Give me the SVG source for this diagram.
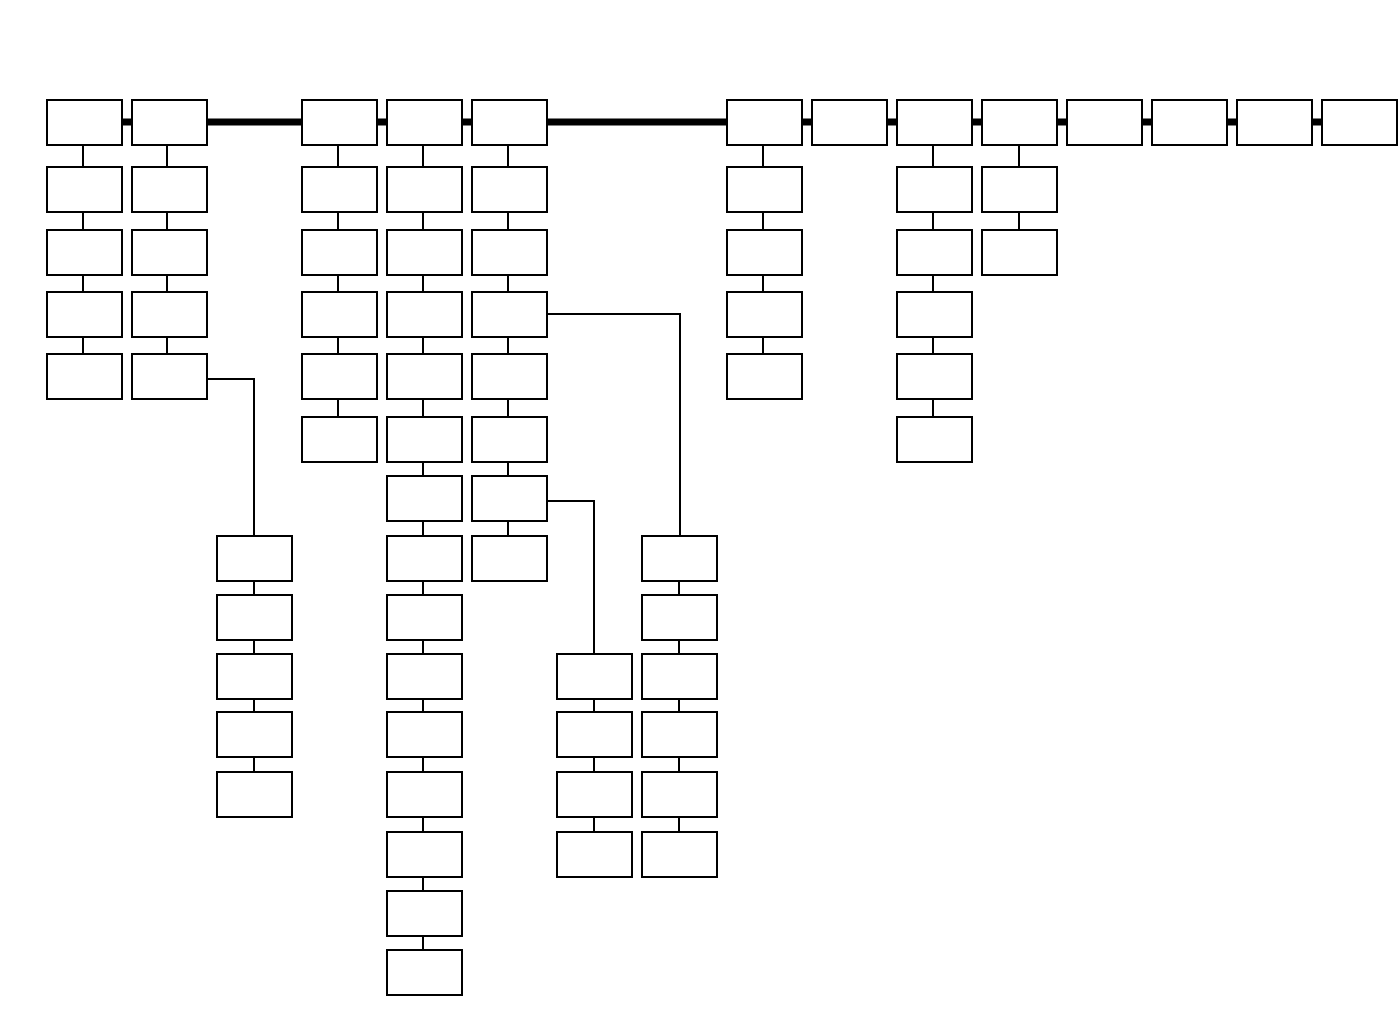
<svg xmlns="http://www.w3.org/2000/svg" width="1398" height="1016" viewBox="0 0 1398 1016">
<style>
.n rect{fill:#fff;stroke:#000;stroke-width:2}
.c line,.c polyline{stroke:#000;stroke-width:2;fill:none}
.c .bus{stroke-width:7}
</style>
<rect width="1398" height="1016" fill="#fff"/>
<g class="c">
<line class="bus" x1="84" y1="122" x2="1360" y2="122"/>
<line x1="83" y1="145" x2="83" y2="354"/>
<line x1="167" y1="145" x2="167" y2="354"/>
<line x1="338" y1="145" x2="338" y2="417"/>
<line x1="423" y1="145" x2="423" y2="950"/>
<line x1="508" y1="145" x2="508" y2="536"/>
<line x1="763" y1="145" x2="763" y2="354"/>
<line x1="933" y1="145" x2="933" y2="417"/>
<line x1="1019" y1="145" x2="1019" y2="230"/>
<line x1="254" y1="536" x2="254" y2="772"/>
<line x1="594" y1="654" x2="594" y2="832"/>
<line x1="679" y1="536" x2="679" y2="832"/>
<polyline points="207,379 254,379 254,536"/>
<polyline points="548,314 680,314 680,536"/>
<polyline points="548,501 594,501 594,654"/>
</g>
<g class="n">
<g id="c0"><rect x="47" y="100" width="75" height="45"/><rect x="47" y="167" width="75" height="45"/><rect x="47" y="230" width="75" height="45"/><rect x="47" y="292" width="75" height="45"/><rect x="47" y="354" width="75" height="45"/></g>
<g id="c1"><rect x="132" y="100" width="75" height="45"/><rect x="132" y="167" width="75" height="45"/><rect x="132" y="230" width="75" height="45"/><rect x="132" y="292" width="75" height="45"/><rect x="132" y="354" width="75" height="45"/></g>
<g id="c2"><rect x="217" y="536" width="75" height="45"/><rect x="217" y="595" width="75" height="45"/><rect x="217" y="654" width="75" height="45"/><rect x="217" y="712" width="75" height="45"/><rect x="217" y="772" width="75" height="45"/></g>
<g id="c3"><rect x="302" y="100" width="75" height="45"/><rect x="302" y="167" width="75" height="45"/><rect x="302" y="230" width="75" height="45"/><rect x="302" y="292" width="75" height="45"/><rect x="302" y="354" width="75" height="45"/><rect x="302" y="417" width="75" height="45"/></g>
<g id="c4"><rect x="387" y="100" width="75" height="45"/><rect x="387" y="167" width="75" height="45"/><rect x="387" y="230" width="75" height="45"/><rect x="387" y="292" width="75" height="45"/><rect x="387" y="354" width="75" height="45"/><rect x="387" y="417" width="75" height="45"/><rect x="387" y="476" width="75" height="45"/><rect x="387" y="536" width="75" height="45"/><rect x="387" y="595" width="75" height="45"/><rect x="387" y="654" width="75" height="45"/><rect x="387" y="712" width="75" height="45"/><rect x="387" y="772" width="75" height="45"/><rect x="387" y="832" width="75" height="45"/><rect x="387" y="891" width="75" height="45"/><rect x="387" y="950" width="75" height="45"/></g>
<g id="c5"><rect x="472" y="100" width="75" height="45"/><rect x="472" y="167" width="75" height="45"/><rect x="472" y="230" width="75" height="45"/><rect x="472" y="292" width="75" height="45"/><rect x="472" y="354" width="75" height="45"/><rect x="472" y="417" width="75" height="45"/><rect x="472" y="476" width="75" height="45"/><rect x="472" y="536" width="75" height="45"/></g>
<g id="c6"><rect x="557" y="654" width="75" height="45"/><rect x="557" y="712" width="75" height="45"/><rect x="557" y="772" width="75" height="45"/><rect x="557" y="832" width="75" height="45"/></g>
<g id="c7"><rect x="642" y="536" width="75" height="45"/><rect x="642" y="595" width="75" height="45"/><rect x="642" y="654" width="75" height="45"/><rect x="642" y="712" width="75" height="45"/><rect x="642" y="772" width="75" height="45"/><rect x="642" y="832" width="75" height="45"/></g>
<g id="c8"><rect x="727" y="100" width="75" height="45"/><rect x="727" y="167" width="75" height="45"/><rect x="727" y="230" width="75" height="45"/><rect x="727" y="292" width="75" height="45"/><rect x="727" y="354" width="75" height="45"/></g>
<g id="c9"><rect x="812" y="100" width="75" height="45"/></g>
<g id="c10"><rect x="897" y="100" width="75" height="45"/><rect x="897" y="167" width="75" height="45"/><rect x="897" y="230" width="75" height="45"/><rect x="897" y="292" width="75" height="45"/><rect x="897" y="354" width="75" height="45"/><rect x="897" y="417" width="75" height="45"/></g>
<g id="c11"><rect x="982" y="100" width="75" height="45"/><rect x="982" y="167" width="75" height="45"/><rect x="982" y="230" width="75" height="45"/></g>
<g id="c12"><rect x="1067" y="100" width="75" height="45"/></g>
<g id="c13"><rect x="1152" y="100" width="75" height="45"/></g>
<g id="c14"><rect x="1237" y="100" width="75" height="45"/></g>
<g id="c15"><rect x="1322" y="100" width="75" height="45"/></g>
</g>
</svg>
